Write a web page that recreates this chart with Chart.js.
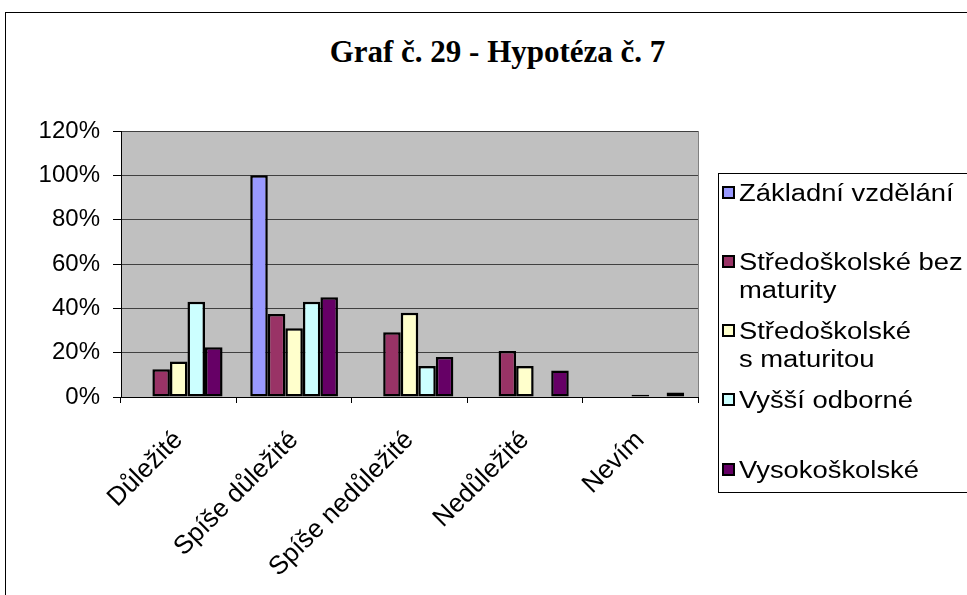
<!DOCTYPE html>
<html>
<head>
<meta charset="utf-8">
<script src="https://cdn.jsdelivr.net/npm/chart.js@4.4.0/dist/chart.umd.min.js"></script>
<style>
    html, body { margin: 0; padding: 0; background: #fff; overflow: hidden; width: 967px; height: 595px; }
    #frame { position: absolute; left: 5px; top: 12px; width: 1000px; height: 700px; border: 1px solid #000; }
    #title { position: absolute; left: 0; width: 995px; top: 34px; line-height: 31px; text-align: center; font: bold 31px "Liberation Serif", "Times New Roman", serif; }
    #legend { position: absolute; left: 718px; top: 173px; width: 400px; height: 318px; border: 1px solid #000; font: 23px "Liberation Sans", Arial, sans-serif; }
    .item { position: absolute; left: 3px; white-space: nowrap; line-height: 28px; }
    .box { position: absolute; left: 0; top: 7px; width: 9px; height: 9px; border: 2px solid #000; }
    .txt { position: absolute; left: 17px; top: 0; transform: scaleX(1.19); transform-origin: 0 0; }
    canvas { position: absolute; left: 0; top: 0; }
</style>
</head>
<body>
<div id="frame"></div>
<div id="title">Graf č. 29 - Hypotéza č. 7</div>
<canvas id="chart" width="967" height="595"></canvas>
<div id="legend"></div>
<script>
// kategorie a hodnoty (podíly)
const categories = ["Důležité", "Spíše důležité", "Spíše nedůležité", "Nedůležité", "Nevím"];
const seriesNames = ["Základní vzdělání", "Středoškolské bez\nmaturity", "Středoškolské\ns maturitou", "Vyšší odborné", "Vysokoškolské"];
const zakladni = [0, 1.00, 0, 0, 0];
const bezMaturity = [0.125, 0.375, 0.292, 0.208, 0];
const sMaturitou = [0.16, 0.31, 0.38, 0.14, 0.01];
const vyssiOdborne = [0.43, 0.43, 0.14, 0, 0];
const vysokoskolske = [0.225, 0.45, 0.18, 0.12, 0.02];
const yTicks = [0, 0.2, 0.4, 0.6, 0.8, 1.0, 1.2];

const colors = ["#9999FF", "#993366", "#FFFFCC", "#CCFFFF", "#660066"];
const allValues = [zakladni, bezMaturity, sMaturitou, vyssiOdborne, vysokoskolske];

// šedé pozadí plochy grafu
const plotBg = {
    id: "plotBg",
    beforeDraw(chart) {
        const a = chart.chartArea;
        const ctx = chart.ctx;
        ctx.save();
        ctx.fillStyle = "#C0C0C0";
        ctx.fillRect(a.left, a.top, a.right - a.left, a.bottom - a.top);
        ctx.strokeStyle = "#808080";
        ctx.lineWidth = 1;
        ctx.beginPath();
        ctx.moveTo(a.right + 0.5, a.top);
        ctx.lineTo(a.right + 0.5, a.bottom);
        ctx.stroke();
        ctx.restore();
    }
};

const fontFamily = "'Liberation Sans', Arial, sans-serif";

new Chart(document.querySelector("#chart"), {
    type: "bar",
    data: {
        labels: categories,
        datasets: allValues.map((vals, i) => ({
            label: seriesNames[i],
            data: vals,
            backgroundColor: colors[i],
            borderColor: "#000",
            borderWidth: 2.5,
            borderSkipped: false,
            categoryPercentage: 0.76,
            barPercentage: 1
        }))
    },
    options: {
        responsive: false,
        animation: false,
        layout: { padding: { top: 131, right: 269, left: 0, bottom: 0 } },
        plugins: {
            legend: { display: false },
            tooltip: { enabled: false }
        },
        scales: {
            x: {
                afterFit(scale) { scale.height = 198; },
                grid: { offset: true, drawOnChartArea: false, tickLength: 6, tickColor: "#000" },
                border: { color: "#000", width: 1 },
                ticks: { color: "#000", font: { family: fontFamily, size: 26 }, minRotation: 45, maxRotation: 45, padding: 22 }
            },
            y: {
                min: 0,
                max: 1.2,
                afterFit(scale) { scale.width = 121; },
                afterBuildTicks(scale) { scale.ticks = yTicks.map(v => ({ value: v })); },
                grid: { color: "#404040", tickColor: "#000", tickLength: 8 },
                border: { color: "#000", width: 1 },
                ticks: {
                    color: "#000",
                    font: { family: fontFamily, size: 24 },
                    padding: 13,
                    callback: v => Math.round(v * 100) + "%"
                }
            }
        }
    },
    plugins: [plotBg]
});

// legenda s víceřádkovými popisky
const legendTops = [5, 74, 143, 212, 282];
const legend = document.querySelector("#legend");
seriesNames.forEach((name, i) => {
    const item = document.createElement("div");
    item.className = "item";
    item.style.top = legendTops[i] + "px";
    const box = document.createElement("div");
    box.className = "box";
    box.style.background = colors[i];
    const txt = document.createElement("div");
    txt.className = "txt";
    txt.innerHTML = name.split("\n").join("<br>");
    item.appendChild(box);
    item.appendChild(txt);
    legend.appendChild(item);
});
</script>
</body>
</html>
